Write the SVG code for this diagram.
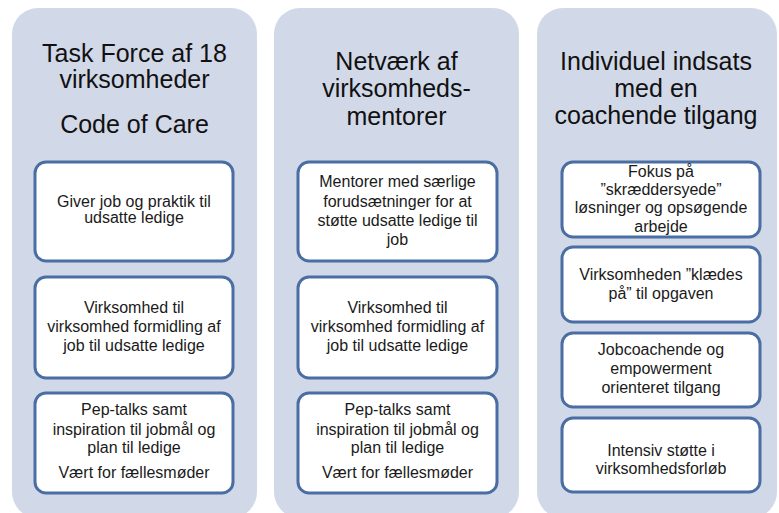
<svg xmlns="http://www.w3.org/2000/svg" width="779" height="513" viewBox="0 0 779 513">
<style>
.panel{fill:#d1d8e8;stroke:none}
.box{fill:#ffffff;stroke:#4a6ea3;stroke-width:3}
.title{font-family:"Liberation Sans",Arial,sans-serif;font-size:25px;fill:#111111;text-anchor:middle}
.txt{font-family:"Liberation Sans",Arial,sans-serif;font-size:16px;fill:#1a1a1a;text-anchor:middle}
</style>
<rect width="779" height="513" fill="#ffffff"/>
<g id="panel-taskforce">
<rect class="panel" x="12" y="8" width="245" height="510" rx="26"/>
<text class="title" x="134.5" y="62">Task Force af 18</text>
<text class="title" x="134.5" y="88">virksomheder</text>
<text class="title" x="134.5" y="133">Code of Care</text>
</g>
<g id="panel-netvaerk">
<rect class="panel" x="274" y="8" width="245" height="510" rx="26"/>
<text class="title" x="396.5" y="70">Netværk af</text>
<text class="title" x="396.5" y="97">virksomheds-</text>
<text class="title" x="396.5" y="125">mentorer</text>
</g>
<g id="panel-individuel">
<rect class="panel" x="537" y="8" width="240" height="510" rx="26"/>
<text class="title" x="656" y="70">Individuel indsats</text>
<text class="title" x="656" y="97">med en</text>
<text class="title" x="656" y="124">coachende tilgang</text>
</g>
<g id="tf-1">
<rect class="box" x="35" y="162" width="198" height="99" rx="11"/>
<text class="txt" x="134" y="207">Giver job og praktik til</text>
<text class="txt" x="134" y="223">udsatte ledige</text>
</g>
<g id="tf-2">
<rect class="box" x="35" y="277" width="198" height="101" rx="11"/>
<text class="txt" x="134" y="313">Virksomhed til</text>
<text class="txt" x="134" y="332">virksomhed formidling af</text>
<text class="txt" x="134" y="351">job til udsatte ledige</text>
</g>
<g id="tf-3">
<rect class="box" x="35" y="393" width="198" height="100" rx="11"/>
<text class="txt" x="134" y="415">Pep-talks samt</text>
<text class="txt" x="134" y="435">inspiration til jobmål og</text>
<text class="txt" x="134" y="453">plan til ledige</text>
<text class="txt" x="134" y="478">Vært for fællesmøder</text>
</g>
<g id="nv-1">
<rect class="box" x="298" y="162" width="199" height="99" rx="11"/>
<text class="txt" x="397.5" y="187">Mentorer med særlige</text>
<text class="txt" x="397.5" y="207">forudsætninger for at</text>
<text class="txt" x="397.5" y="226">støtte udsatte ledige til</text>
<text class="txt" x="397.5" y="245">job</text>
</g>
<g id="nv-2">
<rect class="box" x="298" y="277" width="199" height="101" rx="11"/>
<text class="txt" x="397.5" y="313">Virksomhed til</text>
<text class="txt" x="397.5" y="332">virksomhed formidling af</text>
<text class="txt" x="397.5" y="351">job til udsatte ledige</text>
</g>
<g id="nv-3">
<rect class="box" x="298" y="393" width="199" height="100" rx="11"/>
<text class="txt" x="397.5" y="415">Pep-talks samt</text>
<text class="txt" x="397.5" y="435">inspiration til jobmål og</text>
<text class="txt" x="397.5" y="453">plan til ledige</text>
<text class="txt" x="397.5" y="478">Vært for fællesmøder</text>
</g>
<g id="ind-1">
<rect class="box" x="562" y="162" width="198" height="75" rx="11"/>
<text class="txt" x="661" y="177">Fokus på</text>
<text class="txt" x="661" y="195">”skræddersyede”</text>
<text class="txt" x="661" y="213">løsninger og opsøgende</text>
<text class="txt" x="661" y="232">arbejde</text>
</g>
<g id="ind-2">
<rect class="box" x="562" y="247" width="198" height="75" rx="11"/>
<text class="txt" x="661" y="280">Virksomheden ”klædes</text>
<text class="txt" x="661" y="299">på” til opgaven</text>
</g>
<g id="ind-3">
<rect class="box" x="562" y="333" width="198" height="74" rx="11"/>
<text class="txt" x="661" y="355">Jobcoachende og</text>
<text class="txt" x="661" y="374">empowerment</text>
<text class="txt" x="661" y="393">orienteret tilgang</text>
</g>
<g id="ind-4">
<rect class="box" x="562" y="418" width="198" height="74" rx="11"/>
<text class="txt" x="661" y="456">Intensiv støtte i</text>
<text class="txt" x="661" y="474">virksomhedsforløb</text>
</g>
<g id="connectors"></g>
</svg>
